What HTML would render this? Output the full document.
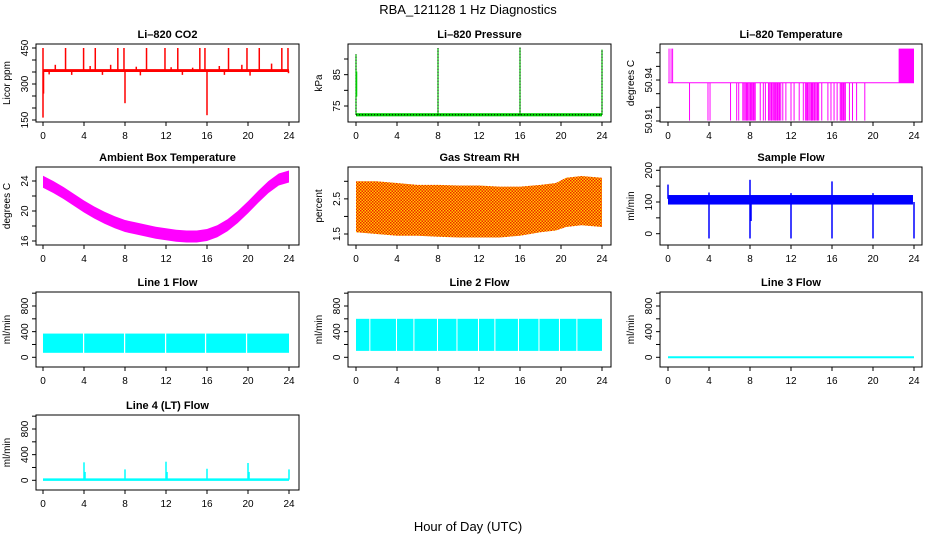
<!DOCTYPE html>
<html><head><meta charset="utf-8"><style>
html,body{margin:0;padding:0;background:#fff;}
svg{display:block;font-family:"Liberation Sans",Arial,sans-serif;}
</style></head><body>
<svg id="fig" width="936" height="540" viewBox="0 0 936 540">
<text x="468" y="14" font-size="13" text-anchor="middle">RBA_121128  1 Hz Diagnostics</text>
<text x="468" y="531" font-size="13" text-anchor="middle">Hour of Day (UTC)</text>
</svg>
<script>
// ---- data ----
const xTicks=[0,4,8,12,16,20,24];
// CO2
const co2Base=[350,362];
const co2SpikeHours=[0,2.2,3.96,5.1,7.3,7.9,10.1,11.9,13.15,15.3,15.8,18.1,19.9,21.1,23.3,23.9,1.2,4.6,6.6,9.1,12.5,14.6,17.2,19.4,22.3];
const co2SpikeVals=[450,450,450,450,450,450,450,450,450,450,450,450,450,450,450,450,380,375,380,372,370,368,375,380,385];
const co2DipHours=[0,0.05,8,16,0.6,2.8,5.8,9.5,13.6,17.7,20.2,23.95];
const co2DipVals=[160,260,220,170,340,338,338,336,338,338,335,345];
// pressure
const presBase=72.2;
const presSpikeHours=[0,8,16,24];
const presSpikeVals=[91.5,93.5,93.7,93];
// li820 temp
const ltBase=50.938;
const ltUpHours=[0.1,0.3,0.45];
const ltBlock=[22.5,24];
const ltDownHours=[2.1,3.9,4.1,6.1,6.7,6.9,7.7,8.1,8.3,8.5,9.0,9.3,9.5,10.1,10.5,10.7,11.0,11.2,11.5,12.0,12.3,12.8,13.2,13.4,13.6,14.0,14.3,14.6,15.0,15.6,15.9,16.2,16.5,16.9,17.1,17.3,17.7,18.0,18.4,19.2];
const ltDownBlocks=[[9.8,10.9],[13.5,14.7],[7.3,8.6],[16.8,17.4]];
// ambient
const ambHours=[0,1,2,3,4,5,6,7,8,9,10,11,12,13,14,15,16,17,18,19,20,21,22,23,24];
const ambMid=[23.9,23.2,22.4,21.5,20.6,19.8,19.1,18.5,18.0,17.7,17.4,17.1,16.9,16.7,16.6,16.6,16.8,17.3,18.1,19.2,20.5,21.9,23.2,24.2,24.6];
// RH
const rhHours=[0,2,4,6,8,10,12,14,16,18,19.5,20.5,22,24];
const rhHi=[3.0,3.0,2.95,2.9,2.9,2.88,2.88,2.85,2.85,2.9,2.95,3.1,3.15,3.1];
const rhLo=[1.55,1.5,1.45,1.45,1.42,1.4,1.4,1.4,1.45,1.55,1.6,1.7,1.75,1.7];
// sample flow
const sfBand=[92,122];
const sfDipHours=[4,8,8.1,12,16,20,24];
const sfDipVals=[-15,-15,40,-15,-15,-15,-15];
const sfSpikeHours=[0,8,16,4,12,20];
const sfSpikeVals=[155,170,165,130,128,128];
// line flows
const l1Band=[70,370];
const l1Gaps=[3.9,7.9,11.9,15.8,19.8];
const l2Band=[100,600];
const l2Gaps=[1.3,3.9,5.6,7.9,9.8,11.9,13.5,15.8,17.8,19.8,21.5];
const l3Val=0;
const l4Base=10;
const l4SpikeHours=[4,4.1,8,12,12.1,16,20,20.1,24];
const l4SpikeVals=[280,130,170,290,130,180,270,130,170];

// ---- helpers ----
const svg=document.getElementById('fig');
const NS='http://www.w3.org/2000/svg';
function mk(tag,attrs,parent){const e=document.createElementNS(NS,tag);for(const k in attrs)e.setAttribute(k,attrs[k]);(parent||svg).appendChild(e);return e;}
const cols=[{l:36,r:299,x0:43},{l:348,r:611,x0:356},{l:660,r:922,x0:668}];
const rows=[{t:44,b:122},{t:167,b:245},{t:292,b:367},{t:415,b:490}];
function panel(name,title,c,r,v0,p0,v1,p1,yTicks,yLabels,ylab){
  const C=cols[c],R=rows[r];
  const g=mk('g',{});
  
  
  const X=h=>C.x0+h*(246/24);
  const Y=v=>p0+(v-v0)*(p1-p0)/(v1-v0);
  const t=mk('text',{x:(C.l+C.r)/2,y:R.t-6,'font-size':11,'font-weight':'bold','text-anchor':'middle'},g);
  t.textContent=title;
  
  
  const marks=mk('g',{},g);
  
  
  const box=mk('rect',{x:C.l,y:R.t,width:C.r-C.l,height:R.b-R.t,fill:'none',stroke:'#000','stroke-width':1},g);
  
  
  xTicks.forEach(h=>{
    mk('line',{x1:X(h),x2:X(h),y1:R.b,y2:R.b+4,stroke:'#000'},g);
    const tx=mk('text',{x:X(h),y:R.b+17,'font-size':10,'text-anchor':'middle'},g);
    tx.textContent=h;
    
    
  });
  yTicks.forEach((v,i)=>{
    mk('line',{x1:C.l-4,x2:C.l,y1:Y(v),y2:Y(v),stroke:'#000'},g);
    if(yLabels[i]!==''){
      const ty=mk('text',{x:0,y:0,'font-size':10,'text-anchor':'middle',transform:`translate(${C.l-8},${Y(v)}) rotate(-90)`},g);
      ty.textContent=yLabels[i];
      
      
    }
  });
  const yl=mk('text',{x:0,y:0,'font-size':10,'text-anchor':'middle',transform:`translate(${C.l-26},${(R.t+R.b)/2}) rotate(-90)`},g);
  yl.textContent=ylab;
  
  
  return {X,Y,g:marks};
}
function vline(P,h,a,b,col,w){mk('line',{x1:P.X(h),x2:P.X(h),y1:P.Y(a),y2:P.Y(b),stroke:col,'stroke-width':w||1},P.g);}
function band(P,h0,h1,lo,hi,col){const y1=P.Y(hi),y2=P.Y(lo);mk('rect',{x:P.X(h0),y:Math.min(y1,y2),width:P.X(h1)-P.X(h0),height:Math.abs(y2-y1),fill:col},P.g);}
function poly(P,hs,lo,hi,col){let pts=hs.map((h,i)=>P.X(h)+','+P.Y(hi[i]));pts=pts.concat(hs.slice().reverse().map((h,i)=>P.X(h)+','+P.Y(lo[hs.length-1-i])));mk('polygon',{points:pts.join(' '),fill:col},P.g);}

// CO2
let P=panel('co2','Li\u2013820 CO2',0,0,450,48,150,120,[150,200,250,300,350,400,450],['150','','','300','','','450'],'Licor ppm');
band(P,0,24,co2Base[0],co2Base[1],'#f00');
co2SpikeHours.forEach((h,i)=>vline(P,h,356,co2SpikeVals[i],'#f00',1.5));
co2DipHours.forEach((h,i)=>vline(P,h,356,co2DipVals[i],'#f00',1.5));
// Pressure
P=panel('pressure','Li\u2013820 Pressure',1,0,75,106,90,59,[75,80,85,90],['75','','85',''],'kPa');
band(P,0,24,presBase-0.5,presBase+0.5,'#0c0');
mk('line',{x1:P.X(0),x2:P.X(24),y1:P.Y(presBase),y2:P.Y(presBase),stroke:'#000','stroke-dasharray':'1,2'},P.g);
presSpikeHours.forEach((h,i)=>{vline(P,h,presBase,presSpikeVals[i],'#0c0',1.2);mk('line',{x1:P.X(h),x2:P.X(h),y1:P.Y(presBase),y2:P.Y(presSpikeVals[i]),stroke:'#000','stroke-dasharray':'1,2'},P.g);});
vline(P,0.05,78,86,'#0c0',1.5);
// Li temp
P=panel('li820-temp','Li\u2013820 Temperature',2,0,50.91,121,50.96,52.7,[50.91,50.92,50.93,50.94,50.95,50.96],['50.91','','','50.94','',''],'degrees C');
mk('line',{x1:P.X(0),x2:P.X(24),y1:P.Y(ltBase),y2:P.Y(ltBase),stroke:'#f0f'},P.g);
ltUpHours.forEach(h=>vline(P,h,ltBase,50.963,'#f0f',1));
band(P,ltBlock[0],ltBlock[1],ltBase,50.963,'#f0f');
ltDownHours.forEach(h=>vline(P,h,ltBase,50.9103,'#f0f',1));
ltDownBlocks.forEach(b=>{for(let h=b[0];h<=b[1];h+=0.12)vline(P,h,ltBase,50.9103,'#f0f',1);});
// Ambient
P=panel('ambient-temp','Ambient Box Temperature',0,1,16,241,24,181,[16,18,20,22,24],['16','','20','','24'],'degrees C');
poly(P,ambHours,ambMid.map(v=>v-0.8),ambMid.map(v=>v+0.8),'#f0f');
// RH
P=panel('gas-rh','Gas Stream RH',1,1,1.5,234,3.0,181.3,[1.5,2.0,2.5,3.0],['1.5','','2.5',''],'percent');
const pat=mk('pattern',{id:'rhpat',width:3,height:3,patternUnits:'userSpaceOnUse'});
mk('rect',{width:3,height:3,fill:'#ffcc00'},pat);mk('rect',{width:1.5,height:1.5,fill:'#f02000'},pat);mk('rect',{x:1.5,y:1.5,width:1.5,height:1.5,fill:'#f02000'},pat);
svg.insertBefore(pat,svg.firstChild);
poly(P,rhHours,rhLo,rhHi,'url(#rhpat)');
// Sample flow
P=panel('sample-flow','Sample Flow',2,1,0,233.7,200,170.3,[0,50,100,150,200],['0','','100','','200'],'ml/min');
band(P,0,23.9,sfBand[0],sfBand[1],'#00f');
sfDipHours.forEach((h,i)=>vline(P,h,100,sfDipVals[i],'#00f',1.5));
sfSpikeHours.forEach((h,i)=>vline(P,h,110,sfSpikeVals[i],'#00f',1.5));
// Line 1
const ft=[0,200,400,600,800,1000],fl=['0','','400','','800',''];
P=panel('line1-flow','Line 1 Flow',0,2,0,357.3,800,306,ft,fl,'ml/min');
band(P,0,24,l1Band[0],l1Band[1],'#0ff');
l1Gaps.forEach(h=>band(P,h,h+0.12,l1Band[0]-5,l1Band[1]+5,'#fff'));
// Line 2
P=panel('line2-flow','Line 2 Flow',1,2,0,357.3,800,306,ft,fl,'ml/min');
band(P,0,24,l2Band[0],l2Band[1],'#0ff');
l2Gaps.forEach(h=>band(P,h,h+0.1,l2Band[0]-5,l2Band[1]+5,'#fff'));
// Line 3
P=panel('line3-flow','Line 3 Flow',2,2,0,357.3,800,306,ft,fl,'ml/min');
mk('line',{x1:P.X(0),x2:P.X(24),y1:P.Y(l3Val),y2:P.Y(l3Val),stroke:'#0ff','stroke-width':2},P.g);
// Line 4
P=panel('line4-flow','Line 4 (LT) Flow',0,3,0,480.3,800,429,ft,fl,'ml/min');
mk('line',{x1:P.X(0),x2:P.X(24),y1:P.Y(l4Base),y2:P.Y(l4Base),stroke:'#0ff','stroke-width':2.5},P.g);
l4SpikeHours.forEach((h,i)=>vline(P,h,l4Base,l4SpikeVals[i],'#0ff',1.5));
</script>
</body></html>
